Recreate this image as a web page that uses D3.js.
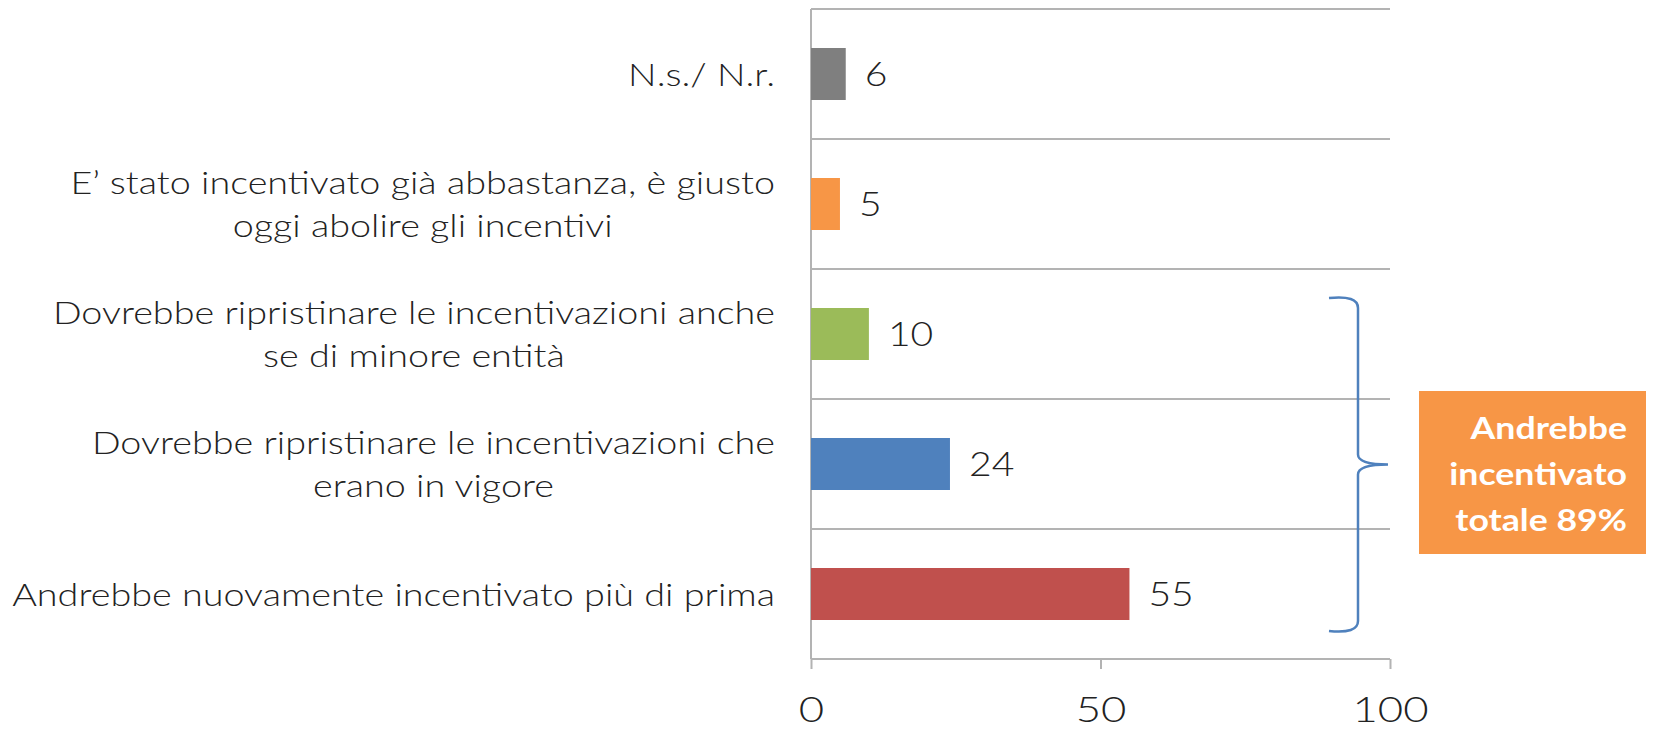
<!DOCTYPE html>
<html>
<head>
<meta charset="utf-8">
<script src="https://cdn.jsdelivr.net/npm/d3@7"></script>
<style>
  html, body { margin: 0; padding: 0; background: #fff; }
  svg { display: block; }
  text { font-family: Lato, "Open Sans", sans-serif; }
</style>
</head>
<body>
<svg id="chart" width="1654" height="731"></svg>
<script>
// ---- data ----
const categories = [
  "N.s./ N.r.",
  "E' stato incentivato già abbastanza, è giusto oggi abolire gli incentivi",
  "Dovrebbe ripristinare le incentivazioni anche se di minore entità",
  "Dovrebbe ripristinare le incentivazioni che erano in vigore",
  "Andrebbe nuovamente incentivato più di prima"
];
const categoryLines = [
  ["N.s./ N.r."],
  ["E\u2019 stato incentivato già abbastanza, è giusto", "oggi abolire gli incentivi"],
  ["Dovrebbe ripristinare le incentivazioni anche", "se di minore entità"],
  ["Dovrebbe ripristinare le incentivazioni che", "erano in vigore"],
  ["Andrebbe nuovamente incentivato più di prima"]
];
const values = [6, 5, 10, 24, 55];
const barColors = ["#7f7f7f", "#f79646", "#9bbb59", "#4f81bd", "#c0504d"];
const xTicks = [0, 50, 100];
const bracketCategories = [categories[2], categories[4]];
const calloutLines = ["Andrebbe", "incentivato", "totale 89%"];

// ---- layout ----
const svg = d3.select("#chart");
const plot = { left: 811, right: 1390, top: 9, bottom: 659 };
const STRETCH = 1.18; // reference font is wider than the available fonts

function stretch(sel, f) {
  sel.each(function() {
    const w = this.getComputedTextLength();
    d3.select(this).attr("textLength", w * f).attr("lengthAdjust", "spacingAndGlyphs");
  });
}

const x = d3.scaleLinear().domain([0, 100]).range([plot.left, plot.right]);
const y = d3.scaleBand().domain(categories).range([plot.top, plot.bottom])
  .paddingInner(0.6).paddingOuter(0.3);
const step = y.step();

// gridlines (category boundaries)
const bounds = d3.range(categories.length + 1).map(i => plot.top + i * step);
svg.append("g").selectAll("line").data(bounds).join("line")
  .attr("x1", plot.left).attr("x2", plot.right)
  .attr("y1", d => d).attr("y2", d => d)
  .attr("stroke", "#b3b3b3").attr("stroke-width", 2);

// vertical axis line
svg.append("line")
  .attr("x1", plot.left).attr("x2", plot.left)
  .attr("y1", plot.top).attr("y2", plot.bottom)
  .attr("stroke", "#b3b3b3").attr("stroke-width", 2);

// x axis
const xAxis = d3.axisBottom(x).tickValues(xTicks).tickSize(10).tickPadding(28);
const gx = svg.append("g").attr("transform", `translate(0,${plot.bottom})`).call(xAxis);
gx.select(".domain").remove();
gx.selectAll(".tick line").attr("stroke", "#b3b3b3").attr("stroke-width", 2);
const tickTexts = gx.selectAll(".tick text").attr("font-size", 35).attr("fill", "#222")
  .attr("font-family", "Lato, sans-serif").attr("font-weight", 300);
stretch(tickTexts, 1.25);

// bars
svg.append("g").selectAll("rect").data(values).join("rect")
  .attr("x", x(0))
  .attr("y", (d, i) => y(categories[i]))
  .attr("width", d => x(d) - x(0))
  .attr("height", y.bandwidth())
  .attr("fill", (d, i) => barColors[i]);

// value labels
const vl = svg.append("g").selectAll("text").data(values).join("text")
  .attr("x", d => x(d) + 19)
  .attr("y", (d, i) => y(categories[i]) + y.bandwidth() / 2)
  .attr("dy", "0.36em")
  .attr("font-size", 34).attr("font-weight", 300).attr("fill", "#222")
  .text(d => d);
stretch(vl, 1.15);

// category labels
const LABEL_X = 775, FS = 32, LH = 43;
const lab = svg.append("g").selectAll("text").data(categories).join("text")
  .attr("font-size", FS).attr("font-weight", 300).attr("fill", "#222")
  .attr("y", d => y(d) + y.bandwidth() / 2);
lab.each(function(d, i) {
  const lines = categoryLines[i];
  const t = d3.select(this);
  const spans = lines.map((ln, j) => t.append("tspan")
    .attr("x", 0)
    .attr("dy", j === 0 ? ((-(lines.length - 1) / 2) * LH / FS + 0.36) + "em" : (LH / FS) + "em")
    .text(ln).node());
  const widths = spans.map(s => s.getComputedTextLength() * STRETCH);
  const maxW = d3.max(widths);
  spans.forEach((s, j) => {
    d3.select(s)
      .attr("textLength", widths[j])
      .attr("lengthAdjust", "spacingAndGlyphs")
      .attr("x", LABEL_X - maxW / 2 - widths[j] / 2);
  });
});

// bracket
const yTop = y(bracketCategories[0]) + y.bandwidth() / 2 - 36;
const yBot = y(bracketCategories[1]) + y.bandwidth() / 2 + 37;
const yMid = (yTop + yBot) / 2;
const bx = 1358, bl = 1329, bt = 1388;
const bp = d3.path();
bp.moveTo(bl, yTop);
bp.quadraticCurveTo(bx, yTop - 3, bx, yTop + 10);
bp.lineTo(bx, yMid - 10);
bp.quadraticCurveTo(bx, yMid, bt, yMid);
bp.quadraticCurveTo(bx, yMid, bx, yMid + 10);
bp.lineTo(bx, yBot - 10);
bp.quadraticCurveTo(bx, yBot + 3, bl, yBot);
svg.append("path").attr("d", bp.toString())
  .attr("fill", "none").attr("stroke", "#4f81bd").attr("stroke-width", 2.5);

// callout box
const box = { x: 1419, y: 391, w: 227, h: 163 };
svg.append("rect").attr("x", box.x).attr("y", box.y).attr("width", box.w).attr("height", box.h)
  .attr("fill", "#f79646");
const cl = svg.append("g").selectAll("text").data(calloutLines).join("text")
  .attr("x", box.x + box.w - 19)
  .attr("y", (d, i) => 428 + i * 46)
  .attr("dy", "0.36em")
  .attr("text-anchor", "end")
  .attr("font-size", 31).attr("font-weight", 700).attr("fill", "#fff")
  .text(d => d);
stretch(cl, 1.15);
</script>
</body>
</html>
